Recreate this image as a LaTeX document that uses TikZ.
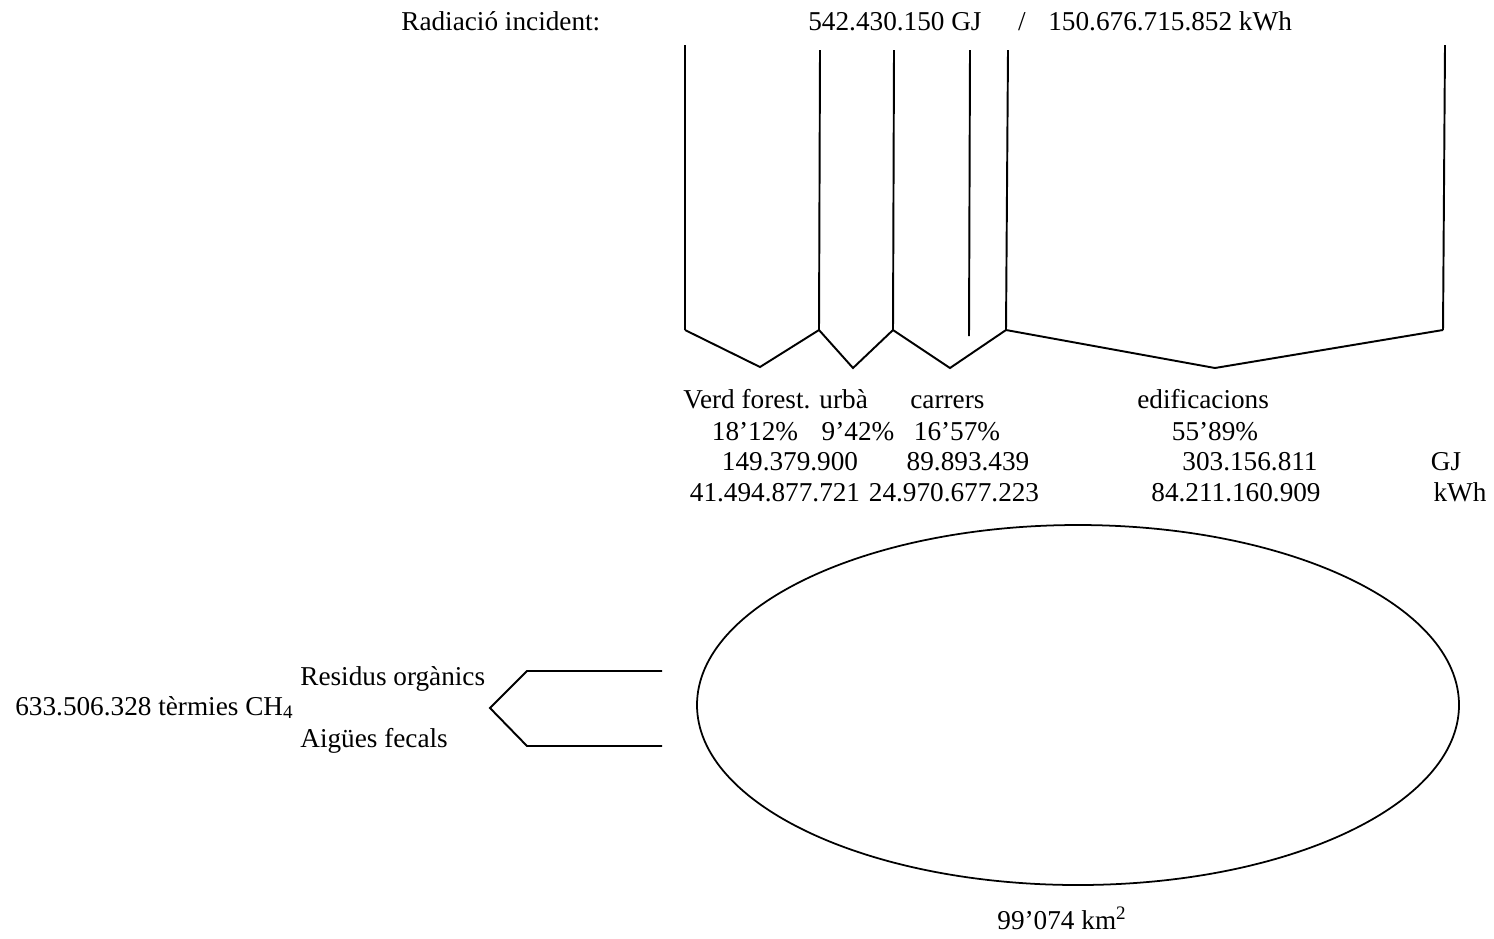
\documentclass[tikz,border=0pt]{standalone}
\usepackage{fontspec}
\setmainfont{Liberation Serif}
\usetikzlibrary{calc}

\begin{document}
\begin{tikzpicture}[
    x=0.02cm, y=-0.02cm,
    every node/.style={font=\fontsize{15.5}{19}\selectfont, inner sep=0pt},
    beam/.style={draw=black, line width=1.1pt, line join=miter},
    txt/.style={anchor=base west},
    num/.style={anchor=base}
]
  \useasboundingbox (0,0) rectangle (1494,938);

  % 1. Incident radiation (header)
  \node[txt] (rad) at (401, 30) {Radiació incident:};
  \node[txt] (radgj) at (808, 30) {542.430.150 GJ};
  \node[num] (radsl) at (1022, 30) {/};
  \node[txt] (radkwh) at (1048, 30) {150.676.715.852 kWh};

  % 2. Beams falling on the surfaces
  \coordinate (t1) at (685, 45);  \coordinate (b1) at (685, 330);
  \coordinate (t2) at (820, 50);  \coordinate (b2) at (819, 330);
  \coordinate (t3) at (894, 50);  \coordinate (b3) at (893, 330);
  \coordinate (t4) at (970, 50);  \coordinate (b4) at (969, 336);
  \coordinate (t5) at (1008, 50); \coordinate (b5) at (1006, 330);
  \coordinate (t6) at (1445, 45); \coordinate (b6) at (1443, 330);
  \foreach \i in {1,...,6}
    \path[beam] (t\i) -- (b\i);

  % Chevrons (one per surface)
  \path[beam] (b1) -- (760, 367) -- (b2);
  \path[beam] (b2) -- (853, 368) -- (b3);
  \path[beam] (b3) -- (950, 368) -- (b5);
  \path[beam] (b5) -- (1215, 368) -- (b6);

  % 3. Surfaces
  \node[txt] (verd) at (683, 408) {Verd forest. urbà};
  \node[txt] (carr) at (910, 408) {carrers};
  \node[txt] (edif) at (1137, 408) {edificacions};

  % Shares
  \node[num] (p1) at (755, 440) {18’12\%};
  \node[num] (p2) at (858, 440) {9’42\%};
  \node[num] (p3) at (957, 440) {16’57\%};
  \node[num] (p4) at (1215, 440) {55’89\%};

  % Energy in GJ
  \node[num] (gj1) at (790, 470) {149.379.900};
  \node[num] (gj2) at (968, 470) {89.893.439};
  \node[num] (gj3) at (1250, 470) {303.156.811};
  \node[num] (gj) at (1446, 470) {GJ};

  % Energy in kWh
  \node[num] (kw1) at (775, 501) {41.494.877.721};
  \node[num] (kw2) at (954, 501) {24.970.677.223};
  \node[num] (kw3) at (1236, 501) {84.211.160.909};
  \node[num] (kwh) at (1460, 501) {kWh};

  % 4. City (ellipse)
  \path[beam, line width=1pt] (1078, 705) ellipse (381 and 180);
  \node[num] (area) at (1062, 929) {99’074 km\textsuperscript{2}};

  % 5. Biogas
  \coordinate (tip) at (490, 708);
  \path[beam] (662, 671) -- (527, 671) -- (tip) -- (527, 746) -- (662, 746);
  \node[txt] (resid) at (300, 685) {Residus orgànics};
  \node[txt] (aigue) at (300, 747) {Aigües fecals};
  \node[txt] (ch4) at (15, 715) {633.506.328 tèrmies CH\textsubscript{4}};

\end{tikzpicture}
\end{document}
